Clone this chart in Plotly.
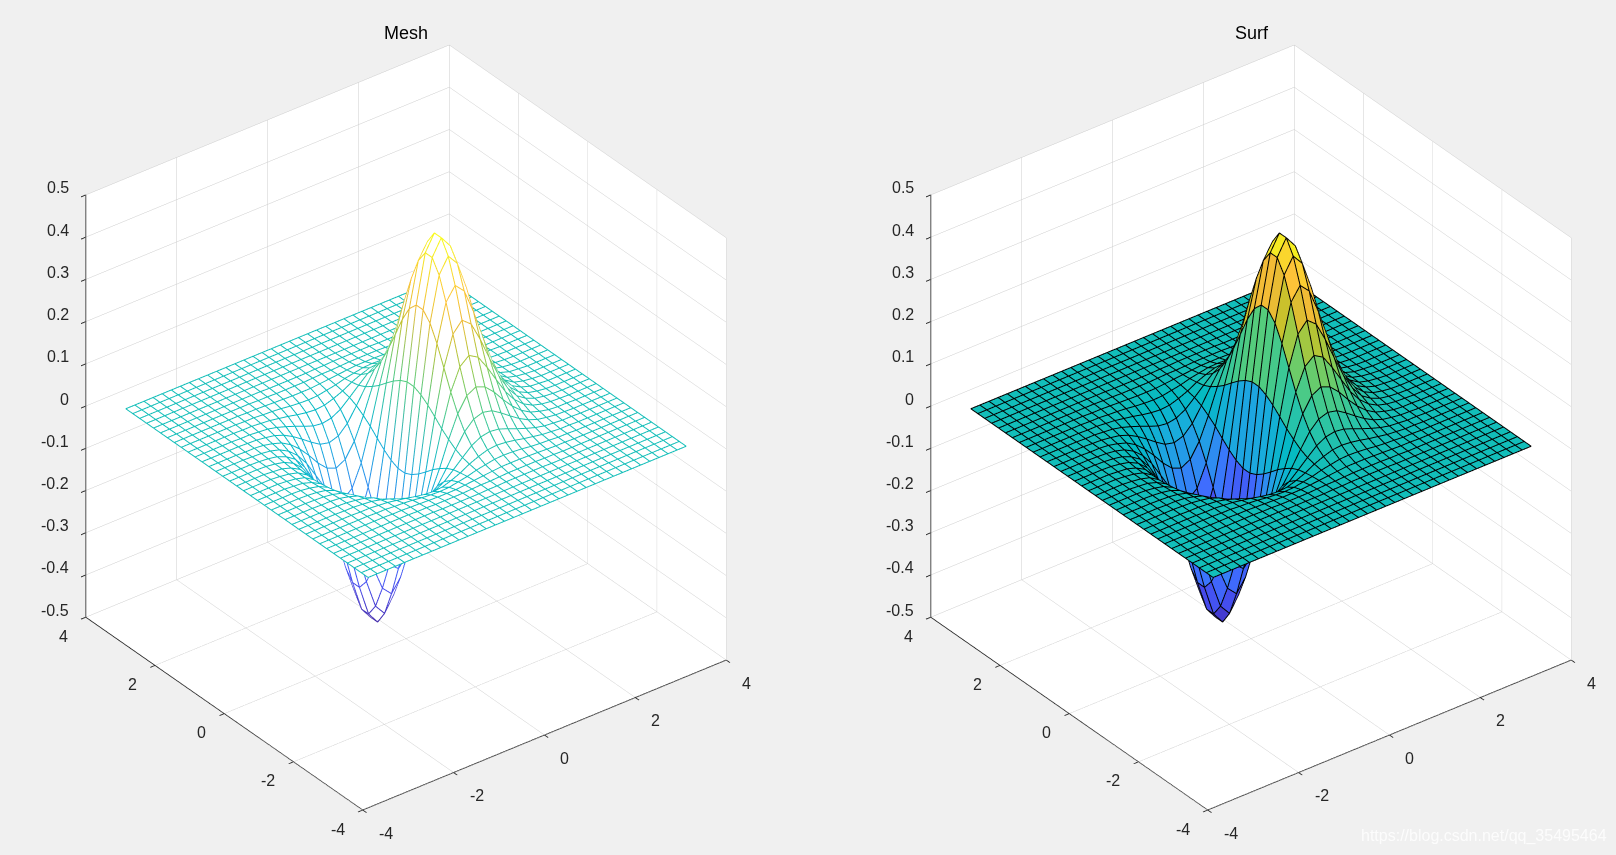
import numpy as np
import plotly.graph_objects as go

x_grid = [-3.5,-3.3,-3.1,-2.9,-2.7,-2.5,-2.3,-2.1,-1.9,-1.7,-1.5,-1.3,-1.1,-0.9,-0.7,-0.5,-0.3,-0.1,0.1,0.3,0.5,0.7,0.9,1.1,1.3,1.5,1.7,1.9,2.1,2.3,2.5,2.7,2.9,3.1,3.3,3.5]
y_grid = [-3.5,-3.3,-3.1,-2.9,-2.7,-2.5,-2.3,-2.1,-1.9,-1.7,-1.5,-1.3,-1.1,-0.9,-0.7,-0.5,-0.3,-0.1,0.1,0.3,0.5,0.7,0.9,1.1,1.3,1.5,1.7,1.9,2.1,2.3,2.5,2.7,2.9,3.1,3.3,3.5]
Z0 = [0]*36
# z values in thousandths, rows by |y|, columns by x
r01 = [0,0,0,0,-2,-5,-11,-25,-51,-93,-157,-237,-324,-396,-424,-386,-271,-98,98,271,386,424,396,324,237,157,93,51,25,11,5,2,0,0,0,0]
r03 = [0,0,0,0,-2,-4,-11,-23,-47,-86,-144,-219,-299,-366,-392,-356,-251,-90,90,251,356,392,366,299,219,144,86,47,23,11,4,2,0,0,0,0]
r05 = [0,0,0,0,-1,-4,-9,-20,-40,-74,-123,-187,-255,-312,-334,-303,-214,-77,77,214,303,334,312,255,187,123,74,40,20,9,4,1,0,0,0,0]
r07 = [0,0,0,0,-1,-3,-7,-16,-31,-58,-97,-147,-200,-245,-263,-239,-168,-61,61,168,239,263,245,200,147,97,58,31,16,7,3,1,0,0,0,0]
r09 = [0,0,0,0,-1,-2,-5,-11,-23,-42,-70,-107,-145,-178,-191,-173,-122,-44,44,122,173,191,178,145,107,70,42,23,11,5,2,1,0,0,0,0]
r11 = [0,0,0,0,-1,-1,-3,-8,-15,-28,-47,-71,-98,-119,-128,-116,-82,-30,30,82,116,128,119,98,71,47,28,15,8,3,1,1,0,0,0,0]
r13 = [0,0,0,0,0,-1,-2,-5,-9,-17,-29,-44,-60,-74,-79,-72,-51,-18,18,51,72,79,74,60,44,29,17,9,5,2,1,0,0,0,0,0]
r15 = [0,0,0,0,0,-1,-1,-3,-5,-10,-17,-25,-34,-42,-45,-41,-29,-10,10,29,41,45,42,34,25,17,10,5,3,1,1,0,0,0,0,0]
r17 = [0,0,0,0,0,0,-1,-1,-3,-5,-9,-13,-18,-22,-24,-22,-15,-6,6,15,22,24,22,18,13,9,5,3,1,1,0,0,0,0,0,0]
r19 = [0,0,0,0,0,0,0,-1,-1,-3,-4,-6,-9,-11,-12,-11,-7,-3,3,7,11,12,11,9,6,4,3,1,1,0,0,0,0,0,0,0]
r21 = [0,0,0,0,0,0,0,0,-1,-1,-2,-3,-4,-5,-5,-5,-3,-1,1,3,5,5,5,4,3,2,1,1,0,0,0,0,0,0,0,0]
r23 = [0,0,0,0,0,0,0,0,0,0,-1,-1,-2,-2,-2,-2,-1,0,0,1,2,2,2,2,1,1,0,0,0,0,0,0,0,0,0,0]
r25 = [0,0,0,0,0,0,0,0,0,0,0,0,-1,-1,-1,-1,-1,0,0,1,1,1,1,1,0,0,0,0,0,0,0,0,0,0,0,0]
z_rows = [Z0,Z0,Z0,Z0,Z0,r25,r23,r21,r19,r17,r15,r13,r11,r09,r07,r05,r03,r01,r01,r03,r05,r07,r09,r11,r13,r15,r17,r19,r21,r23,r25,Z0,Z0,Z0,Z0,Z0]

xy_ticks = [-4,-2,0,2,4]
xy_labels = ["-4","-2","0","2","4"]
z_ticks = [-0.5,-0.4,-0.3,-0.2,-0.1,0,0.1,0.2,0.3,0.4,0.5]
z_labels = ["-0.5","-0.4","-0.3","-0.2","-0.1","0","0.1","0.2","0.3","0.4","0.5"]

parula_rgb = [(.2422,.1504,.6603),(.2803,.2782,.9221),(.2440,.4358,.9988),(.1540,.5902,.9218),(.0952,.6798,.8598),(.0067,.7312,.7660),(.0964,.7500,.7120),(.1938,.7758,.6251),(.3406,.8008,.4789),(.5616,.7942,.3045),(.7738,.7598,.1646),(.9393,.7288,.2100),(.9970,.7659,.2199),(.9786,.8386,.1766),(.9597,.9135,.1423),(.9769,.9839,.0805)]
parula_pos = [0,7,14,21,26,30,32,35,39,43,47,51,54,58,60,63]
parula = [[p/63, "rgb(%d,%d,%d)" % tuple(round(v*255) for v in c)] for p,c in zip(parula_pos,parula_rgb)]

X = np.array(x_grid); Y = np.array(y_grid)
Z = np.array(z_rows)/1000.0
XX, YY = np.meshgrid(X, Y)
zlim = float(np.abs(Z).max())
flat = dict(ambient=1, diffuse=0, specular=0, roughness=1, fresnel=0)
aspect = dict(x=1.073, y=1.062, z=1.170)
view = (-.515, -.669, .536)
# faces sit a hair behind the wire along the line of sight, so wires are never hidden by their own face
eps = 0.006
sx = -view[0]*eps*8/aspect["x"]; sy = -view[1]*eps*8/aspect["y"]; sz = -view[2]*eps*1/aspect["z"]
n = len(X)
I, J, K, cell = [], [], [], []
for r in range(n-1):
    for c in range(n-1):
        a = r*n+c
        I += [a, a]; J += [a+1, a+n+1]; K += [a+n+1, a+n]
        cell += [Z[r, c], Z[r, c]]

lx, ly, lz = [], [], []
for r in range(n):
    lx += list(XX[r]) + [np.nan]; ly += list(YY[r]) + [np.nan]; lz += list(Z[r]) + [np.nan]
for c in range(n):
    lx += list(XX[:, c]) + [np.nan]; ly += list(YY[:, c]) + [np.nan]; lz += list(Z[:, c]) + [np.nan]

def wire(scene, colored):
    if colored:
        line = dict(color=lz, colorscale=parula, cmin=-zlim, cmax=zlim, width=2)
    else:
        line = dict(color="black", width=2)
    return go.Scatter3d(x=lx, y=ly, z=lz, mode="lines", line=line, hoverinfo="skip", scene=scene, connectgaps=False)

fig = go.Figure()
fig.add_trace(go.Surface(x=X+sx, y=Y+sy, z=Z+sz, colorscale=[[0,"white"],[1,"white"]], showscale=False, lighting=flat, hoverinfo="skip", scene="scene"))
fig.add_trace(wire("scene", True))
fig.add_trace(go.Mesh3d(x=XX.ravel()+sx, y=YY.ravel()+sy, z=Z.ravel()+sz, i=I, j=J, k=K, intensity=cell, intensitymode="cell",
                        colorscale=parula, cmin=-zlim, cmax=zlim, showscale=False, flatshading=True, lighting=flat, hoverinfo="skip", scene="scene2"))
fig.add_trace(wire("scene2", False))

lab = dict(family="Liberation Sans, Arial", size=16, color="#262626")
def axis(tv, rng):
    return dict(range=rng, tickmode="array", tickvals=tv, showticklabels=False, title="", showbackground=True, backgroundcolor="white",
                gridcolor="#cccccc", gridwidth=1, showline=True, linecolor="#262626", linewidth=2, ticks="outside", ticklen=6, tickwidth=2,
                tickcolor="#262626", zeroline=False, showspikes=False)
camera = dict(projection=dict(type="orthographic"), up=dict(x=0,y=0,z=1), center=dict(x=0,y=0,z=0), eye=dict(x=view[0]*1.6,y=view[1]*1.6,z=view[2]*1.6))
def tick_notes():
    out = []
    for v, t in zip(xy_ticks, xy_labels):
        out.append(dict(x=v, y=-4, z=-0.5, text=t, showarrow=False, xanchor="left", yanchor="middle", xshift=14, yshift=-23, font=lab))
        out.append(dict(x=-4, y=v, z=-0.5, text=t, showarrow=False, xanchor="right", yanchor="middle", xshift=-16, yshift=-19, font=lab))
    for v, t in zip(z_ticks, z_labels):
        out.append(dict(x=-4, y=4, z=v, text=t, showarrow=False, xanchor="right", yanchor="middle", xshift=-15, yshift=7, font=lab))
    return out
def scene(domx):
    return dict(domain=dict(x=domx, y=[0, 1]), camera=camera, aspectmode="manual", aspectratio=aspect,
                xaxis=axis(xy_ticks, [-4,4]), yaxis=axis(xy_ticks, [-4,4]), zaxis=axis(z_ticks, [-0.5,0.5]), bgcolor="#f0f0f0",
                annotations=tick_notes())
tfont = dict(family="Liberation Sans, Arial", size=18, color="black")
def note(text, px, py, f):
    return dict(text=text, x=px/1616, y=1-py/855, xref="paper", yref="paper", xanchor="center", yanchor="middle", showarrow=False, font=f)
fig.update_layout(width=1616, height=855, margin=dict(l=0,r=0,t=0,b=0), paper_bgcolor="#f0f0f0", showlegend=False,
                  scene=scene([41/1616, 771/1616]), scene2=scene([886/1616, 1]),
                  annotations=[
                      note("Mesh", 406, 33, tfont),
                      note("Surf", 1252, 33, tfont),
                      note("https://blog.csdn.net/qq_35495464", 1484, 836, dict(family="Liberation Sans, Arial", size=16, color="rgba(255,255,255,0.8)")),
                  ])
fig.write_html("out.html", config=dict(displayModeBar=False),
               post_script="document.body.style.margin='0';document.body.style.background='#f0f0f0';document.body.style.overflow='hidden';")
